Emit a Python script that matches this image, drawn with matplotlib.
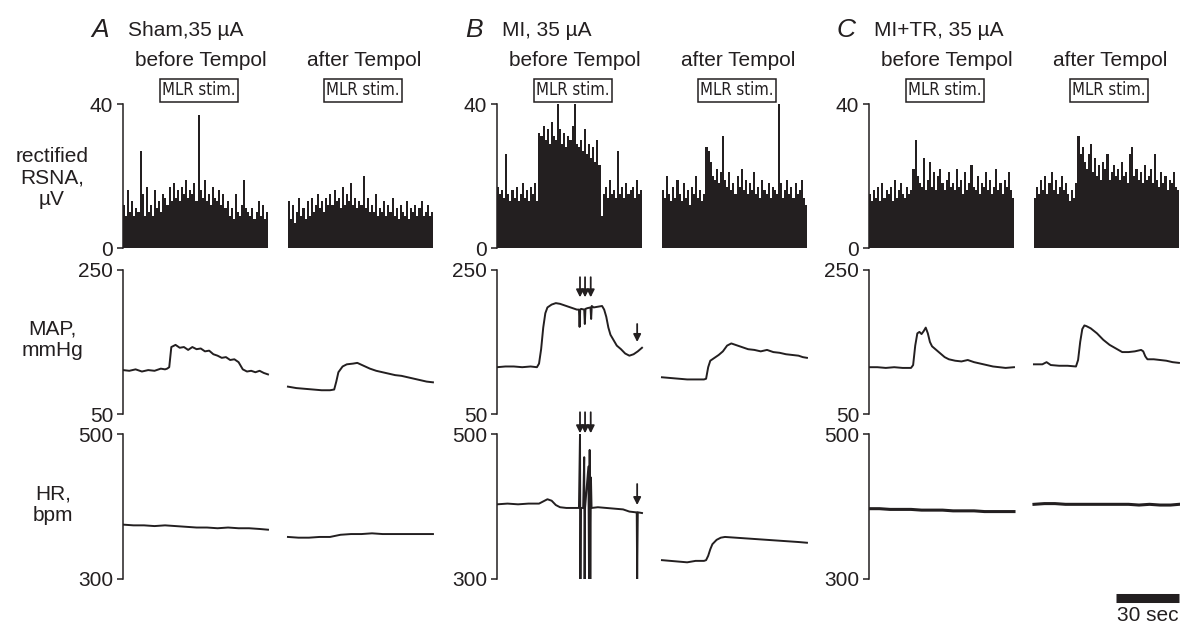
import numpy as np
import matplotlib.pyplot as plt
from matplotlib.transforms import blended_transform_factory

plt.rcParams['font.family'] = ['Liberation Sans', 'DejaVu Sans']

W, H = 1188, 625
INK = '#231f20'
AFTER = 78.5  # start of the "after Tempol" trace on the shared time axis (s)
DUR = 69.0    # length of one trace (s)

# rectified RSNA (uV), about one value per second
rsna_a_before = [12, 9, 16, 10, 13, 9, 11, 10, 27, 15,
                 9, 17, 10, 12, 9, 16, 11, 13, 10, 15,
                 14, 12, 17, 13, 18, 14, 16, 13, 17, 15,
                 19, 14, 16, 15, 18, 13, 37, 16, 14, 19,
                 13, 15, 12, 17, 14, 13, 16, 12, 15, 11,
                 13, 9, 11, 8, 15, 10, 9, 12, 19, 11,
                 10, 9, 11, 8, 10, 13, 9, 12, 8, 10]
rsna_a_after = [13, 8, 12, 7, 10, 14, 9, 11, 8, 13,
                9, 14, 10, 12, 15, 11, 13, 10, 14, 12,
                15, 12, 16, 13, 14, 11, 17, 12, 15, 13,
                18, 12, 14, 11, 13, 12, 20, 11, 14, 10,
                12, 10, 15, 9, 11, 10, 13, 9, 12, 10,
                14, 9, 11, 8, 12, 10, 9, 13, 8, 11,
                10, 12, 9, 11, 13, 9, 10, 12, 9, 10]
rsna_b_before = [17, 15, 16, 14, 26, 15, 13, 16, 14, 17,
                 13, 15, 18, 14, 16, 13, 17, 15, 18, 13,
                 32, 31, 34, 30, 33, 29, 35, 31, 30, 40,
                 33, 29, 32, 28, 31, 30, 34, 40, 29, 28,
                 30, 27, 33, 26, 29, 25, 28, 24, 30, 23,
                 9, 15, 17, 14, 19, 15, 16, 14, 27, 15,
                 17, 14, 18, 15, 16, 17, 14, 19, 15, 16]
rsna_b_after = [16, 14, 20, 15, 13, 17, 14, 19, 15, 13,
                18, 14, 16, 12, 17, 15, 20, 14, 16, 13,
                15, 28, 27, 24, 20, 19, 22, 18, 21, 31,
                19, 17, 21, 16, 18, 15, 20, 17, 22, 16,
                19, 15, 18, 16, 21, 15, 17, 14, 19, 16,
                15, 18, 14, 17, 16, 15, 40, 18, 14, 16,
                19, 15, 17, 14, 18, 15, 16, 19, 14, 12]
rsna_c_before = [15, 13, 16, 14, 17, 13, 18, 14, 16, 15,
                 17, 13, 19, 14, 16, 18, 15, 14, 17, 15,
                 16, 22, 30, 20, 18, 17, 25, 16, 19, 24,
                 17, 21, 16, 20, 22, 18, 16, 19, 21, 17,
                 18, 16, 22, 17, 19, 15, 21, 16, 18, 23,
                 17, 16, 20, 15, 18, 17, 21, 16, 19, 15,
                 17, 22, 16, 18, 15, 19, 17, 21, 16, 14]
rsna_c_after = [14, 17, 15, 19, 16, 20, 15, 18, 21, 16,
                19, 15, 17, 20, 16, 18, 15, 13, 16, 14,
                18, 31, 26, 28, 24, 22, 26, 29, 21, 25,
                20, 23, 19, 24, 22, 26, 19, 21, 23, 20,
                22, 19, 24, 20, 21, 18, 26, 28, 20, 22,
                19, 21, 18, 23, 19, 20, 22, 18, 26, 19,
                17, 21, 18, 20, 16, 19, 18, 21, 17, 16]

# MAP (mmHg): time (s) and value
map_a_before_t = [0, 3, 6, 9, 12, 15, 18, 20, 21, 22, 23, 25, 27, 29, 31, 33, 35, 37, 39, 41,
                  43, 45, 47, 49, 51, 53, 55, 57, 59, 61, 63, 65, 67, 69]
map_a_before = [111, 110, 112, 109, 111, 110, 113, 112, 113, 115, 143, 146, 142, 143, 139, 143, 140, 141, 137, 138,
                133, 131, 128, 129, 125, 126, 122, 112, 109, 110, 108, 110, 107, 105]
map_a_after_t = [0, 4, 8, 12, 16, 20, 22, 23, 24, 26, 28, 31, 33, 36, 39, 42, 45, 48, 51, 54, 57, 60, 63, 66, 69]
map_a_after = [88, 86, 85, 84, 83, 83, 84, 95, 108, 116, 119, 120, 121, 117, 113, 110, 108, 106, 104, 103,
               101, 99, 97, 95, 94]
map_b_before_t = [0, 4, 8, 12, 16, 19, 20, 21, 22, 23, 24, 26, 28, 30, 33, 36, 38, 39, 39.3, 39.6,
                  40, 41.5, 41.8, 42.1, 43, 44.5, 44.8, 45.1, 46, 48, 50, 51, 52, 53, 54, 55, 57, 59,
                  61, 63, 65, 67, 69]
map_b_before = [115, 116, 116, 115, 116, 115, 120, 140, 170, 190, 198, 202, 204, 203, 200, 197, 195, 195, 171, 195,
                196, 195, 175, 196, 197, 198, 182, 200, 198, 199, 200, 195, 185, 170, 160, 155, 145, 140,
                134, 131, 133, 137, 142]
map_b_after_t = [0, 4, 8, 12, 16, 20, 21, 22, 23, 25, 27, 29, 31, 33, 35, 38, 41, 44, 47, 50, 53, 56, 59, 62,
                 65, 67, 69]
map_b_after = [101, 100, 99, 98, 98, 98, 99, 115, 124, 128, 132, 137, 145, 148, 146, 143, 140, 139, 137, 139,
               136, 135, 133, 132, 131, 129, 128]
map_c_before_t = [0, 4, 8, 12, 16, 20, 21, 22, 23, 24, 25, 26, 27, 28, 29, 30, 32, 34, 36, 38, 41, 44, 47, 50,
                  53, 56, 59, 62, 65, 69]
map_c_before = [115, 115, 114, 115, 114, 114, 118, 145, 162, 164, 161, 165, 170, 162, 150, 144, 139, 134, 129, 126,
                124, 123, 125, 122, 120, 118, 116, 115, 114, 115]
map_c_after_t = [0, 4, 6, 8, 12, 16, 20, 21, 22, 23, 24, 25, 27, 30, 33, 36, 39, 42, 45, 48, 51, 52, 53, 54,
                 57, 60, 63, 66, 69]
map_c_after = [119, 119, 122, 118, 117, 117, 116, 125, 150, 168, 173, 172, 169, 162, 153, 146, 141, 136, 136, 137,
               139, 137, 130, 126, 126, 125, 124, 122, 121]

# HR (bpm)
hr_a_before_t = [0, 5, 10, 15, 20, 25, 30, 35, 40, 45, 50, 55, 60, 65, 69]
hr_a_before = [375, 374, 374, 373, 374, 373, 372, 371, 371, 370, 371, 370, 370, 369, 368]
hr_a_after_t = [0, 5, 10, 15, 20, 25, 30, 35, 40, 45, 50, 55, 60, 65, 69]
hr_a_after = [358, 357, 357, 358, 358, 361, 362, 362, 363, 362, 362, 362, 362, 362, 362]
hr_b_before_t = [0, 5, 10, 15, 20, 22, 24, 26, 28, 30, 33, 36, 39, 39.5, 39.7, 39.9, 41, 41.5, 41.7, 41.9,
                 43.5, 43.8, 44.1, 44.4, 44.7, 45, 48, 52, 56, 60, 63, 66, 66.5, 66.7, 67, 69]
hr_b_before = [403, 404, 403, 404, 404, 407, 410, 408, 402, 399, 398, 398, 398, 500, 300, 398, 398, 468, 300, 398,
               455, 300, 478, 300, 440, 398, 399, 398, 397, 396, 393, 392, 392, 300, 392, 391]
hr_b_after_t = [0, 4, 8, 12, 16, 20, 21, 22, 23, 24, 26, 28, 30, 35, 40, 45, 50, 55, 60, 65, 69]
hr_b_after = [326, 325, 324, 323, 325, 325, 326, 332, 341, 348, 354, 357, 358, 357, 356, 355, 354, 353, 352, 351, 350]
hr_c_before_t = [0, 5, 10, 15, 20, 25, 30, 35, 40, 45, 50, 55, 60, 65, 69]
hr_c_before = [397, 397, 396, 396, 396, 395, 395, 395, 394, 394, 394, 393, 393, 393, 393]
hr_c_after_t = [0, 5, 10, 15, 20, 25, 30, 35, 40, 45, 50, 55, 60, 65, 69]
hr_c_after = [403, 404, 404, 403, 403, 403, 403, 403, 403, 403, 402, 403, 402, 402, 403]

panel_letters = ['A', 'B', 'C']
panel_titles = ['Sham,35 µA', 'MI, 35 µA', 'MI+TR, 35 µA']
row_labels = ['rectified\nRSNA,\nµV', 'MAP,\nmmHg', 'HR,\nbpm']
row_limits = [(0, 40), (50, 250), (300, 500)]

rsna = [(rsna_a_before, rsna_a_after), (rsna_b_before, rsna_b_after), (rsna_c_before, rsna_c_after)]
maps = [((map_a_before_t, map_a_before), (map_a_after_t, map_a_after)),
        ((map_b_before_t, map_b_before), (map_b_after_t, map_b_after)),
        ((map_c_before_t, map_c_before), (map_c_after_t, map_c_after))]
hrs = [((hr_a_before_t, hr_a_before), (hr_a_after_t, hr_a_after)),
       ((hr_b_before_t, hr_b_before), (hr_b_after_t, hr_b_after)),
       ((hr_c_before_t, hr_c_before), (hr_c_after_t, hr_c_after))]

# layout in pixels
col_left = [123, 497, 869]
row_span = [(104, 248), (270, 414), (434, 579)]
AX_W = 311

fig = plt.figure(figsize=(W / 100, H / 100), dpi=100)


def px(x, y):
    return x / W, 1 - y / H


def make_ax(left, top, bottom, lim):
    ax = fig.add_axes([left / W, 1 - bottom / H, AX_W / W, (bottom - top) / H])
    for s in ['top', 'right', 'bottom']:
        ax.spines[s].set_visible(False)
    ax.spines['left'].set_linewidth(1.1)
    ax.spines['left'].set_color(INK)
    ax.set_xlim(0, 148)
    ax.set_ylim(*lim)
    ax.set_xticks([])
    ax.set_yticks(list(lim))
    ax.tick_params(axis='y', length=4, width=1.1, labelsize=15, pad=3, colors=INK)
    ax.patch.set_alpha(0)
    return ax


axes = {}
for c in range(3):
    for r in range(3):
        axes[(r, c)] = make_ax(col_left[c], row_span[r][0], row_span[r][1], row_limits[r])

    # RSNA bars
    ax = axes[(0, c)]
    for k, vals in enumerate(rsna[c]):
        n = len(vals)
        step = DUR / n
        x = k * AFTER + np.arange(n) * step
        ax.bar(x, vals, width=step, align='edge', color=INK, linewidth=0)

    # MAP and HR traces
    for r, data in ((1, maps[c]), (2, hrs[c])):
        ax = axes[(r, c)]
        lw = 2.2 if (r == 2 and c == 2) else 1.4
        for k, (t, v) in enumerate(data):
            ax.plot(np.array(t) + k * AFTER, v, color=INK, lw=lw, solid_joinstyle='round')

    # headings
    fig.text(*px(col_left[c] - 23, 30), panel_letters[c], fontsize=19, style='italic',
             ha='center', va='center', color=INK)
    fig.text(*px(col_left[c] + 5, 30), panel_titles[c], fontsize=15, ha='left', va='center', color=INK)
    fig.text(*px(col_left[c] + 78, 60), 'before Tempol', fontsize=15, ha='center', va='center', color=INK)
    fig.text(*px(col_left[c] + 241, 60), 'after Tempol', fontsize=15, ha='center', va='center', color=INK)
    for dx in (76, 240):
        fig.text(*px(col_left[c] + dx, 90), 'MLR stim.', fontsize=12,
                 family=['Liberation Sans Narrow', 'DejaVu Sans'], fontstretch='condensed',
                 ha='center', va='center', color=INK,
                 bbox=dict(boxstyle='square,pad=0.15', fc='white', ec=INK, lw=1.1))

# row labels
fig.text(*px(52, 178), row_labels[0], fontsize=15, ha='center', va='center', linespacing=1.15, color=INK)
fig.text(*px(52, 340), row_labels[1], fontsize=15, ha='center', va='center', linespacing=1.15, color=INK)
fig.text(*px(53, 505), row_labels[2], fontsize=15, ha='center', va='center', linespacing=1.15, color=INK)

# arrows in panel B
arrow = dict(arrowstyle='-|>', color=INK, lw=1.3, mutation_scale=11, shrinkA=0, shrinkB=0)
for t in (39.5, 41.9, 44.6):
    axes[(1, 1)].annotate('', xy=(t, 212), xytext=(t, 240), arrowprops=arrow, annotation_clip=False)
    axes[(2, 1)].annotate('', xy=(t, 501), xytext=(t, 530), arrowprops=arrow, annotation_clip=False)
axes[(1, 1)].annotate('', xy=(66.7, 150), xytext=(66.7, 175), arrowprops=arrow, annotation_clip=False)
axes[(2, 1)].annotate('', xy=(66.7, 402), xytext=(66.7, 431), arrowprops=arrow, annotation_clip=False)

# 30 s scale bar
ax = axes[(2, 2)]
tr = blended_transform_factory(ax.transData, ax.transAxes)
ax.plot([AFTER + DUR - 30, AFTER + DUR], [-0.128, -0.128], transform=tr, color=INK, lw=6.5,
        solid_capstyle='butt', clip_on=False)
ax.text(AFTER + DUR - 15, -0.25, '30 sec', transform=tr, fontsize=15, ha='center', va='center', color=INK)

fig.savefig('out.png', dpi=100)
